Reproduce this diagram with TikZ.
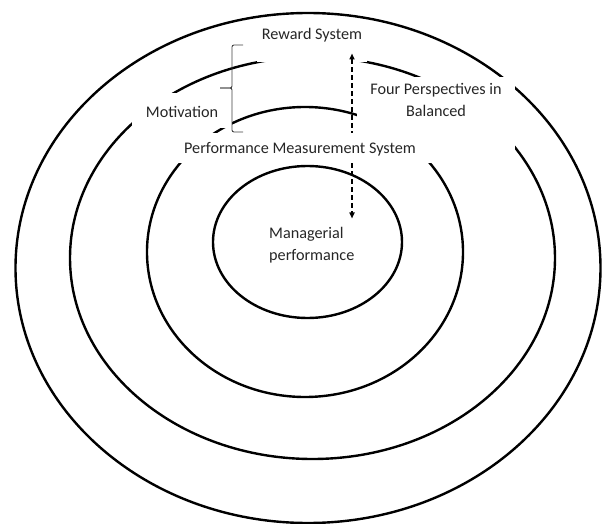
\documentclass[tikz,border=0pt]{standalone}
\usepackage{fontspec}
\setmainfont{Carlito}
\usetikzlibrary{arrows.meta}

\tikzset{
  ring/.style={line width=2.4pt},
  lbl/.style={fill=white, inner sep=0pt, text=black!85, font=\fontsize{16.2}{22.5}\selectfont},
  twoway/.style={line width=1.6pt, dash pattern=on 5pt off 3pt,
    arrows={Triangle[length=6pt,width=5pt]-Triangle[length=6pt,width=5pt]}},
  bracket/.style={line width=0.9pt, black!75, rounded corners=2pt},
}

\begin{document}
\begin{tikzpicture}[x=1pt,y=-1pt]
\useasboundingbox (0,0) rectangle (603,524);
% rings, outside in
\draw[ring] (308,268) ellipse [x radius=292.5pt, y radius=255pt];
\draw[ring] (312.5,258) ellipse [x radius=242.5pt, y radius=201pt];
\draw[ring] (305,252) ellipse [x radius=158pt, y radius=145pt];
\draw[ring] (307.5,242) ellipse [x radius=94.5pt, y radius=76pt];
% labels, their white boxes cut the rings
\node[lbl, anchor=base, minimum width=110pt, text height=18pt, text depth=22pt] (reward) at (312,40) {Reward System};
\node[lbl, anchor=base, minimum width=158pt, text height=17.5pt, text depth=55.5pt] (bsc) at (436,94.5) {\begin{tabular}[t]{@{}c@{}}Four Perspectives in\\Balanced\end{tabular}};
\node[lbl, anchor=base, minimum width=100pt, text height=25pt, text depth=10pt] (motiv) at (182,118) {Motivation};
% two-way arrow
\coordinate (arrowtop) at (352,53.5);
\coordinate (arrowbot) at (352,218.5);
\draw[twoway] (arrowtop) -- (arrowbot);
\node[lbl, anchor=base, minimum width=270pt, text height=21pt, text depth=9pt] (pms) at (300,154) {Performance Measurement System};
% brace
\draw[bracket] (243,45) -- (232,45) -- (232,88) -- (220,88);
\draw[bracket] (220,88) -- (232,88) -- (232,132) -- (243,132);
\node[lbl, fill=none, anchor=base west] (mgr) at (269,238) {\begin{tabular}[t]{@{}l@{}}Managerial\\performance\end{tabular}};
\end{tikzpicture}
\end{document}
